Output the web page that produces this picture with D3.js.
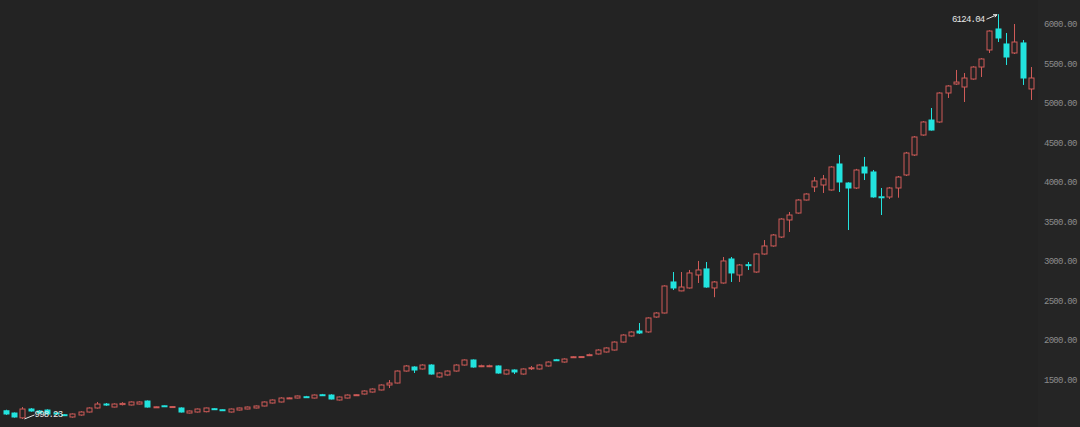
<!DOCTYPE html>
<html>
<head>
<meta charset="utf-8">
<script src="https://cdn.jsdelivr.net/npm/d3@7"></script>
<style>
  html, body { margin: 0; padding: 0; background: #232323; }
  svg { display: block; }
</style>
</head>
<body>
<svg id="chart" width="1080" height="427"></svg>
<script>
const opens = [1102,1073,1012,1124,1099,1111,1073,1052,1023,1048,
1086,1137,1187,1149,1180,1175,1187,1225,1145,1165,
1145,1137,1073,1086,1090,1128,1115,1086,1111,1124,
1137,1162,1200,1213,1258,1263,1280,1263,1305,1301,
1238,1263,1298,1314,1339,1365,1428,1453,1605,1656,
1631,1681,1530,1555,1605,1681,1745,1665,1666,1669,
1567,1618,1567,1640,1631,1669,1748,1719,1780,1782,
1805,1821,1846,1871,1972,2049,2112,2100,2289,2340,
2733,2620,2657,2821,2898,2657,2720,3024,2821,2952,
2859,3087,3189,3302,3518,3606,3771,3936,3961,3898,
4227,3986,3923,4189,4126,3812,3809,3923,4088,4341,
4594,4784,4759,5126,5240,5202,5303,5455,5671,5937,
5747,5633,5760,5177];
const closes = [1061,1023,1124,1099,1073,1061,1061,1045,1061,1086,
1137,1187,1175,1187,1195,1213,1213,1149,1152,1158,
1155,1086,1099,1124,1137,1120,1108,1124,1137,1149,
1162,1213,1238,1263,1265,1289,1272,1301,1298,1251,
1276,1301,1305,1352,1377,1428,1453,1605,1669,1618,
1681,1567,1580,1605,1681,1745,1656,1672,1672,1580,
1618,1593,1631,1646,1681,1719,1742,1757,1786,1788,
1812,1871,1897,1972,2061,2099,2087,2277,2340,2682,
2657,2669,2847,2885,2669,2733,2999,2847,2948,2945,
3087,3189,3328,3530,3581,3771,3847,4012,4037,4189,
3999,3923,4151,4113,3810,3805,3923,4062,4366,4569,
4759,4657,5126,5215,5265,5316,5455,5557,5911,5823,
5582,5772,5316,5316];
const highs = [1115,1080,1149,1135,1110,1120,1080,1060,1068,1095,
1145,1213,1200,1195,1210,1220,1222,1232,1158,1170,
1162,1145,1105,1130,1142,1135,1120,1130,1142,1155,
1168,1220,1245,1272,1272,1295,1290,1308,1315,1310,
1282,1308,1312,1360,1385,1435,1491,1612,1680,1665,
1690,1690,1588,1612,1690,1752,1752,1685,1685,1676,
1625,1625,1638,1669,1688,1726,1758,1765,1795,1795,
1825,1880,1905,1980,2070,2108,2213,2285,2350,2690,
2859,2859,2885,2999,2986,2745,3049,3049,2960,2986,
3095,3264,3340,3540,3619,3780,3855,4062,4088,4200,
4341,3995,4165,4316,4151,3923,3936,4075,4380,4580,
4770,4936,5135,5225,5418,5379,5465,5568,5920,6124.04,
5886,6000,5797,5455];
const lows = [1050,1015,998.23,1090,1065,1055,1050,1035,1015,1040,
1080,1130,1165,1145,1170,1170,1182,1142,1140,1150,
1140,1080,1068,1080,1082,1115,1100,1080,1105,1120,
1132,1158,1195,1208,1252,1258,1265,1258,1290,1245,
1232,1258,1292,1308,1333,1360,1390,1448,1598,1580,
1625,1560,1522,1548,1598,1675,1648,1655,1655,1572,
1560,1567,1560,1618,1625,1662,1735,1712,1775,1775,
1795,1815,1840,1865,1965,2042,2075,2090,2280,2335,
2631,2615,2650,2720,2660,2540,2712,2733,2733,2885,
2850,3080,3180,3290,3366,3598,3765,3872,3860,3890,
3872,3391,3910,4024,3800,3581,3784,3800,4075,4330,
4585,4650,4750,5063,5230,5012,5295,5329,5633,5772,
5481,5620,5228,5038];
const periods = d3.range(opens.length);
const yTicks = [1500,2000,2500,3000,3500,4000,4500,5000,5500,6000];

const UP = "#cf5b58", DOWN = "#22e3de", BG = "#232323";
const svg = d3.select("#chart");

const x = d3.scalePoint().domain(periods).range([5.7, 1031]);
const y = d3.scaleLinear().domain([1000, 6000]).range([418.8, 24]);

// axis area panel
svg.append("rect").attr("x", 1038).attr("y", 0).attr("width", 42).attr("height", 427).attr("fill", "#252525");

const yAxis = d3.axisRight(y).tickValues(yTicks).tickFormat(d3.format(".2f")).tickSize(0).tickPadding(0);
const ga = svg.append("g").attr("transform", "translate(1044,0)").call(yAxis);
ga.select(".domain").remove();
ga.selectAll("text").attr("fill", "#8c8c8c")
  .style("font-family", "'Liberation Mono', 'DejaVu Sans Mono', monospace")
  .style("font-size", "9px").style("letter-spacing", "-0.75px");

const data = periods.map(i => ({i, o: opens[i], h: highs[i], l: lows[i], c: closes[i]}));
const bw = 5;
const g = svg.append("g");
const cs = g.selectAll("g.c").data(data).join("g").attr("class", "c");
cs.each(function(d) {
  const sel = d3.select(this);
  const up = d.c >= d.o;
  const col = up ? UP : DOWN;
  const cx = Math.round(x(d.i)) + 0.5;
  const top = y(Math.max(d.o, d.c)), bot = y(Math.min(d.o, d.c));
  sel.append("line").attr("x1", cx).attr("x2", cx).attr("y1", y(d.h)).attr("y2", top).attr("stroke", col).attr("stroke-width", 1);
  sel.append("line").attr("x1", cx).attr("x2", cx).attr("y1", bot).attr("y2", y(d.l)).attr("stroke", col).attr("stroke-width", 1);
  const hgt = Math.max(1, bot - top);
  if (up) {
    sel.append("rect").attr("x", cx - bw/2).attr("y", top).attr("width", bw).attr("height", hgt)
      .attr("fill", BG).attr("stroke", col).attr("stroke-width", 1);
  } else {
    sel.append("rect").attr("x", cx - bw/2 - 0.5).attr("y", top - 0.5).attr("width", bw + 1).attr("height", hgt + 1)
      .attr("fill", col);
  }
});

// max / min annotations
const maxI = d3.maxIndex(highs), minI = d3.minIndex(lows);
const font = "'Liberation Mono', 'DejaVu Sans Mono', monospace";
const mx = Math.round(x(maxI)) + 0.5, my = y(highs[maxI]);
svg.append("line").attr("x1", mx - 1.5).attr("y1", my + 0.5).attr("x2", mx - 12).attr("y2", my + 5)
  .attr("stroke", "#e6e6e6").attr("stroke-width", 1);
svg.append("path").attr("d", `M${mx-1.5},${my+0.5} l-4,0 M${mx-1.5},${my+0.5} l-2,2.5`)
  .attr("stroke", "#e6e6e6").attr("stroke-width", 1).attr("fill", "none");
svg.append("text").attr("x", mx - 14).attr("y", my + 8).attr("text-anchor", "end")
  .attr("fill", "#e6e6e6").style("font-family", font).style("font-size", "9px").style("letter-spacing", "-0.75px")
  .text(d3.format(".2f")(highs[maxI]));

const nx = Math.round(x(minI)) + 0.5, ny = y(lows[minI]);
svg.append("line").attr("x1", nx + 2).attr("y1", ny).attr("x2", nx + 12).attr("y2", ny - 4)
  .attr("stroke", "#e6e6e6").attr("stroke-width", 1);
svg.append("text").attr("x", nx + 12).attr("y", ny - 2).attr("text-anchor", "start")
  .attr("fill", "#e6e6e6").style("font-family", font).style("font-size", "9px").style("letter-spacing", "-0.75px")
  .text(d3.format(".2f")(lows[minI]));
</script>
</body>
</html>
